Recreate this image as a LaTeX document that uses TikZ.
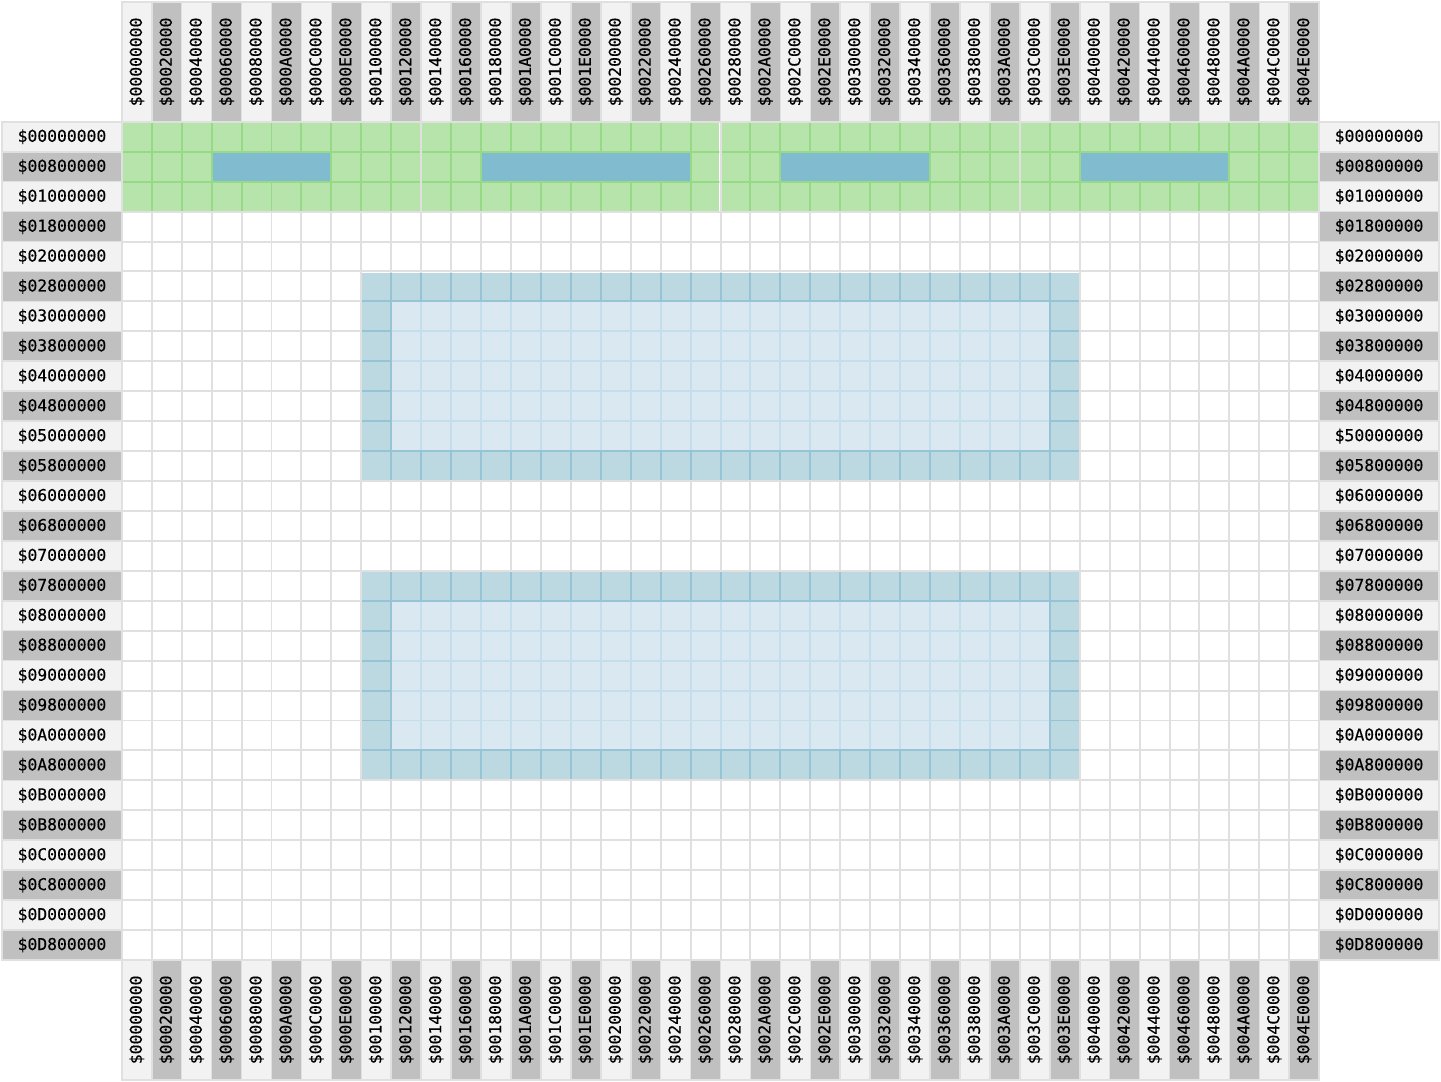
\documentclass[tikz,border=0pt]{standalone}
\usepackage{fontspec}
\newfontfamily\labfont[FakeBold=0.4]{DejaVu Sans Mono}
\definecolor{gridgray}{HTML}{E0E0E0}
\definecolor{labellight}{HTML}{F2F2F2}
\definecolor{labeldark}{HTML}{C0C0C0}
\definecolor{greenfill}{HTML}{B7E4AB}
\definecolor{greenline}{HTML}{96DA87}
\definecolor{barfill}{HTML}{80BBD0}
\definecolor{ringfill}{HTML}{BCD9E1}
\definecolor{ringline}{HTML}{96C4D6}
\definecolor{innerfill}{HTML}{DAE8F2}
\definecolor{innerline}{HTML}{C4DEEC}
\tikzset{
  lab/.style={rectangle, draw=gridgray, line width=0.8pt, inner sep=0pt,
    minimum width=60pt, minimum height=15pt,
    font=\labfont\fontsize{8.2}{10}\selectfont},
  lab0/.style={lab, fill=labellight},
  lab1/.style={lab, fill=labeldark},
  gridline/.style={draw=gridgray, line width=1pt},
  greenrule/.style={draw=greenline, line width=1pt},
  ringrule/.style={draw=ringline, line width=1pt},
  innerrule/.style={draw=innerline, line width=1pt}
}
\begin{document}
\begin{tikzpicture}[x=15pt, y=-15pt]
    \fill[white] (-4.07,-4.07) rectangle (44.07,32.07);
    \useasboundingbox (-4.07,-4.07) rectangle (44.07,32.07);
    \foreach \c [count=\i from 0] in {00,02,04,06,08,0A,0C,0E,10,12,14,16,18,1A,1C,1E,20,22,24,26,28,2A,2C,2E,30,32,34,36,38,3A,3C,3E,40,42,44,46,48,4A,4C,4E} {
        \pgfmathtruncatemacro\k{mod(\i,2)}
        \node[lab\k, rotate=90] (top\i) at (\i+0.5,-2) {\$00\c0000};
        \node[lab\k, rotate=90] (bot\i) at (\i+0.5,30) {\$00\c0000};
    }
    \foreach \r [count=\j from 0] in {00,08,10,18,20,28,30,38,40,48,50,58,60,68,70,78,80,88,90,98,A0,A8,B0,B8,C0,C8,D0,D8} {
        \pgfmathtruncatemacro\k{mod(\j,2)}
        \ifnum\j=10 \def\rtext{50000000}\else\def\rtext{0\r00000}\fi
        \node[lab\k] (left\j) at (-2,\j+0.5) {\$0\r00000};
        \node[lab\k] (right\j) at (42,\j+0.5) {\$\rtext};
    }
    \foreach \x in {0,...,40} \draw[gridline] (\x,0) -- (\x,28);
    \foreach \y in {0,...,28} \draw[gridline] (0,\y) -- (40,\y);
    \foreach \b in {0,10,20,30} {
        \fill[greenfill] (\b+0.035,0.035) rectangle (\b+9.965,2.965);
        \foreach \x in {1,...,9} \draw[greenrule] (\b+\x,0.035) -- (\b+\x,2.965);
        \foreach \y in {1,2} \draw[greenrule] (\b+0.035,\y) -- (\b+9.965,\y);
    }
    \foreach \a/\e in {3/7,12/19,22/27,32/37}
        \fill[barfill] (\a+0.035,1.035) rectangle (\e-0.035,1.965);
    \foreach \t in {5,15} {
        \fill[ringfill] (8.035,\t+0.035) rectangle (31.965,\t+6.965);
        \foreach \x in {9,...,31} \draw[ringrule] (\x,\t+0.035) -- (\x,\t+6.965);
        \foreach \y in {1,...,6} \draw[ringrule] (8.035,\t+\y) -- (31.965,\t+\y);
        \fill[innerfill] (9,\t+1) rectangle (31,\t+6);
        \foreach \x in {10,...,30} \draw[innerrule] (\x,\t+1) -- (\x,\t+6);
        \foreach \y in {2,...,5} \draw[innerrule] (9,\t+\y) -- (31,\t+\y);
        \draw[ringrule] (9,\t+1) rectangle (31,\t+6);
    }
\end{tikzpicture}
\end{document}
